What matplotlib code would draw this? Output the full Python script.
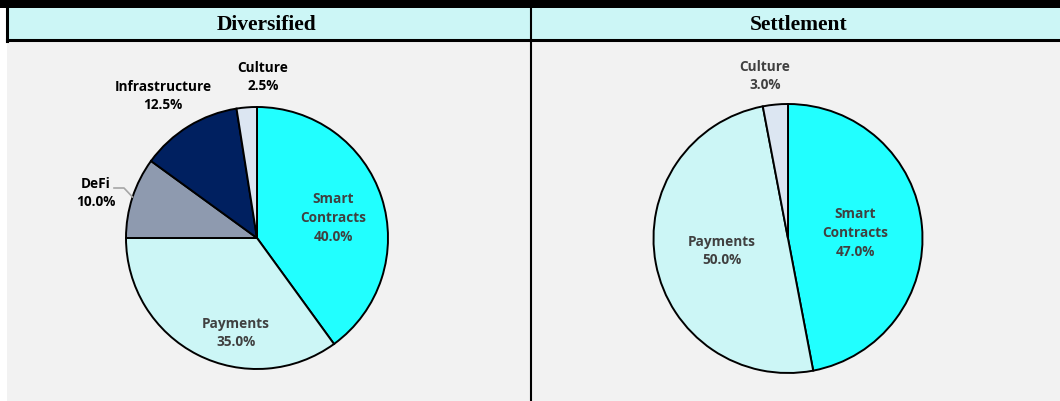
import matplotlib
matplotlib.use("Agg")
import matplotlib.pyplot as plt
from matplotlib.patches import Rectangle
from matplotlib.lines import Line2D

# ---- data ----
left_title = "Diversified"
left_labels = ["Smart\nContracts", "Payments", "DeFi", "Infrastructure", "Culture"]
left_values = [40.0, 35.0, 10.0, 12.5, 2.5]
left_colors = ["#21FFFF", "#CCF6F6", "#8E9AAF", "#002060", "#DCE6F2"]

right_title = "Settlement"
right_labels = ["Smart\nContracts", "Payments", "Culture"]
right_values = [47.0, 50.0, 3.0]
right_colors = ["#21FFFF", "#CCF6F6", "#DCE6F2"]

W, H = 1060, 401
fig = plt.figure(figsize=(W / 100, H / 100), dpi=100, facecolor="white")

def fx(px):
    return px / W

def fy(py):
    return 1 - py / H

# background panels
bg = fig.add_axes([0, 0, 1, 1])
bg.set_xlim(0, W)
bg.set_ylim(H, 0)
bg.axis("off")
bg.add_patch(Rectangle((7, 40), W - 7, H - 40, facecolor="#F2F2F2", edgecolor="none"))
bg.add_patch(Rectangle((0, 0), W, 8, facecolor="black", edgecolor="none"))
bg.add_patch(Rectangle((7, 8), W - 7, 32, facecolor="#CCF6F6", edgecolor="none"))
bg.add_line(Line2D([7, W], [40, 40], color="black", lw=2.2))
bg.add_line(Line2D([7, 7], [8, 41], color="black", lw=2.2))
bg.add_line(Line2D([530.5, 530.5], [8, H], color="black", lw=1.5))
bg.text(267, 25, left_title, ha="center", va="center", fontsize=15.5,
        fontweight="bold", family="Liberation Serif", color="black")
bg.text(799, 25, right_title, ha="center", va="center", fontsize=15.5,
        fontweight="bold", family="Liberation Serif", color="black")

FONT = "Open Sans"
TXT = "#404040"

def make_pie(x0, x1, cx, cy, r, values, colors):
    y0, y1 = 41, H
    ax = fig.add_axes([fx(x0), fy(y1), (x1 - x0) / W, (y1 - y0) / H])
    ax.axis("off")
    ax.pie(values, colors=colors, startangle=90, counterclock=False,
           wedgeprops=dict(edgecolor="black", linewidth=1.4), radius=1.0)
    ax.set_xlim((x0 - cx) / r, (x1 - cx) / r)
    ax.set_ylim((cy - y1) / r, (cy - y0) / r)
    ax.set_aspect("auto")
    return ax

def put(ax, cx, cy, r, px, py, s, color=TXT):
    ax.text((px - cx) / r, (cy - py) / r, s, ha="center", va="center",
            fontsize=9.8, fontweight="bold", family=FONT, color=color,
            linespacing=1.42)

# left pie
lcx, lcy, lr = 257, 238, 131
axl = make_pie(8, 530, lcx, lcy, lr, left_values, left_colors)
left_pos = [(333, 218, TXT), (236, 333, TXT), (96, 193, "black"),
            (163, 96, "black"), (263, 77, "black")]
for lab, v, (px, py, c) in zip(left_labels, left_values, left_pos):
    put(axl, lcx, lcy, lr, px, py, f"{lab}\n{v:.1f}%", c)
# DeFi leader line
lx = [(114 - lcx) / lr, (124 - lcx) / lr, (132.5 - lcx) / lr]
ly = [(lcy - 188) / lr, (lcy - 188) / lr, (lcy - 197) / lr]
axl.plot(lx, ly, color="#A6A6A6", lw=1.2)

# right pie
rcx, rcy, rr = 788, 238.5, 134.5
axr = make_pie(531, 1060, rcx, rcy, rr, right_values, right_colors)
right_pos = [(855, 233, TXT), (722, 251, TXT), (765, 76, TXT)]
for lab, v, (px, py, c) in zip(right_labels, right_values, right_pos):
    put(axr, rcx, rcy, rr, px, py, f"{lab}\n{v:.1f}%", c)

fig.savefig("out.png", dpi=100, facecolor="white")
